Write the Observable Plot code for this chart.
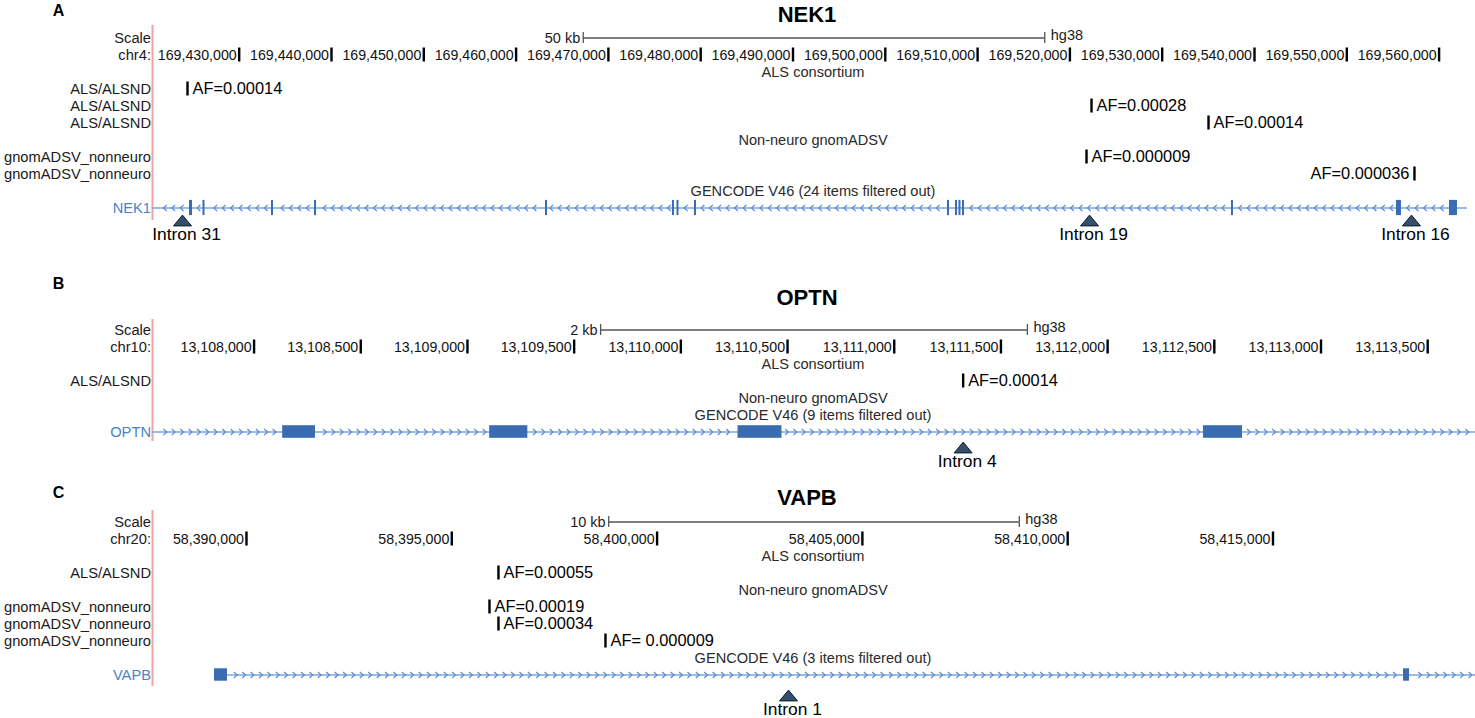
<!DOCTYPE html>
<html><head><meta charset="utf-8">
<script src="https://cdn.jsdelivr.net/npm/d3@7"></script>
<script src="https://cdn.jsdelivr.net/npm/@observablehq/plot@0.6"></script>
<style>
body{margin:0;background:#fff;}
#wrap{width:1475px;height:718px;overflow:hidden;background:#fff;}
#wrap svg{display:block;}
</style></head><body><div id="wrap"></div>
<script>
// ================= Panel A: NEK1 (chr4, minus strand) =================
const nekLetter = "A";
const nekTitle = "NEK1";
const nekView = [169420607, 169563944];
const nekTicks = [169430000,169440000,169450000,169460000,169470000,169480000,169490000,169500000,169510000,169520000,169530000,169540000,169550000,169560000];
const nekScaleKb = 50;
const nekRows = ["scale","chr","alsTitle","als1","als2","als3","gnTitle","gn1","gn2","gencode","gene"];
const nekRowLabels = ["Scale","chr4:","","ALS/ALSND","ALS/ALSND","ALS/ALSND","","gnomADSV_nonneuro","gnomADSV_nonneuro","","NEK1"];
const nekCenterLabels = [["alsTitle","ALS consortium"],["gnTitle","Non-neuro gnomADSV"],["gencode","GENCODE V46 (24 items filtered out)"]];
const nekStrand = "-";
const nekGeneSpan = [169420607, 169563074];
const nekExons = [[169424615,169424941],[169426078,169426295],[169433499,169433716],[169438158,169438375],[169463186,169463403],[169476943,169477160],[169477431,169477648],[169479326,169479543],[169506736,169506953],[169507603,169507820],[169507982,169508199],[169508362,169508579],[169537505,169537722],[169555380,169555921],[169561122,169561989]];
const nekVariants = [
  {track:"als1", pos:169424399, label:"AF=0.00014"},
  {track:"als2", pos:169522342, label:"AF=0.00028"},
  {track:"als3", pos:169535018, label:"AF=0.00014"},
  {track:"gn1",  pos:169521800, label:"AF=0.000009"},
  {track:"gn2",  pos:169557331, label:"AF=0.000036"}
];
const nekIntrons = [
  {pos:169423857, label:"Intron 31"},
  {pos:169522125, label:"Intron 19"},
  {pos:169557006, label:"Intron 16"}
];

// ================= Panel B: OPTN (chr10, plus strand) =================
const optnLetter = "B";
const optnTitle = "OPTN";
const optnView = [13107524, 13113724];
const optnTicks = [13108000,13108500,13109000,13109500,13110000,13110500,13111000,13111500,13112000,13112500,13113000,13113500];
const optnScaleKb = 2;
const optnRows = ["scale","chr","alsTitle","als1","gnTitle","gencode","gene"];
const optnRowLabels = ["Scale","chr10:","","ALS/ALSND","","","OPTN"];
const optnCenterLabels = [["alsTitle","ALS consortium"],["gnTitle","Non-neuro gnomADSV"],["gencode","GENCODE V46 (9 items filtered out)"]];
const optnStrand = "+";
const optnGeneSpan = [13107524, 13113724];
const optnExons = [[13108134,13108288],[13109104,13109283],[13110268,13110474],[13112449,13112632]];
const optnVariants = [
  {track:"als1", pos:13111323, label:"AF=0.00014"}
];
const optnIntrons = [
  {pos:13111323, label:"Intron 4"}
];

// ================= Panel C: VAPB (chr20, plus strand) =================
const vapbLetter = "C";
const vapbTitle = "VAPB";
const vapbView = [58387711, 58419932];
const vapbTicks = [58390000,58395000,58400000,58405000,58410000,58415000];
const vapbScaleKb = 10;
const vapbRows = ["scale","chr","alsTitle","als1","gnTitle","gn1","gn2","gn3","gencode","gene"];
const vapbRowLabels = ["Scale","chr20:","","ALS/ALSND","","gnomADSV_nonneuro","gnomADSV_nonneuro","gnomADSV_nonneuro","","VAPB"];
const vapbCenterLabels = [["alsTitle","ALS consortium"],["gnTitle","Non-neuro gnomADSV"],["gencode","GENCODE V46 (3 items filtered out)"]];
const vapbStrand = "+";
const vapbGeneSpan = [58389221, 58419932];
const vapbExons = [[58389221,58389537],[58418179,58418325]];
const vapbVariants = [
  {track:"als1", pos:58396137, label:"AF=0.00055"},
  {track:"gn1",  pos:58395918, label:"AF=0.00019"},
  {track:"gn2",  pos:58396137, label:"AF=0.00034"},
  {track:"gn3",  pos:58398743, label:"AF= 0.000009"}
];
const vapbIntrons = [
  {pos:58403200, label:"Intron 1"}
];

// ================= drawing =================
const W = 1475, ML = 152;
const BLUE_TXT = "#4b82c6", BLUE_LINE = "#79a6dc", BLUE_CHEV = "#5b8dcf", BLUE_EXON = "#3a6cb2";
const FONT = "'Liberation Sans', Arial, Helvetica, sans-serif";
const fmt = d3.format(",");

const chevLeft = {draw(ctx, size){ const r = Math.sqrt(size/Math.PI); ctx.moveTo(r*0.55,-r); ctx.lineTo(-r*0.55,0); ctx.lineTo(r*0.55,r); }};
const chevRight = {draw(ctx, size){ const r = Math.sqrt(size/Math.PI); ctx.moveTo(-r*0.55,-r); ctx.lineTo(r*0.55,0); ctx.lineTo(-r*0.55,r); }};
const flatTri = {draw(ctx, size){ const r = Math.sqrt(size/Math.PI); ctx.moveTo(0,-r*0.6); ctx.lineTo(r,r*0.6); ctx.lineTo(-r,r*0.6); ctx.closePath(); }};

function panel(c, L){
  const bpPerPx = (c.view[1]-c.view[0])/(W-ML);
  const step = 8.4*bpPerPx, pad = 3*bpPerPx;
  const chev = d3.range(c.span[0]+step/2, c.span[1]-pad, step)
    .filter(p => p > c.view[0] + 2*pad && !c.exons.some(([a,b]) => p > a-pad && p < b+pad));
  const mid = (c.view[0]+c.view[1])/2;
  const bar = {x1: mid - c.kb*500, x2: mid + c.kb*500};
  const rowData = c.rows.map((r,i) => ({row:r, label:c.rowLabels[i]})).filter(d => d.label);
  // a label goes to the right of its bar unless it would run past the right edge
  const fitsRight = v => (ML + (v.pos-c.view[0])/bpPerPx) + 115 < W;
  const varRight = c.variants.filter(fitsRight);
  const varLeft = c.variants.filter(v => !fitsRight(v));
  return Plot.plot({
    width: W, height: L.height,
    marginLeft: ML, marginRight: 0, marginTop: L.mt, marginBottom: L.mb,
    x: {domain: c.view, axis: null},
    y: {type: "band", domain: c.rows, padding: 0, axis: null},
    style: {fontFamily: FONT, fontSize: "14.5px", background: "#fff", overflow: "visible", color: "#111"},
    marks: [
      Plot.ruleX([c.view[0]], {stroke: "#f3a3a3", strokeWidth: 2}),
      // panel letter and title
      Plot.text([c.letter], {text: d => d, frameAnchor: "top-left", lineAnchor: "middle", textAnchor: "middle", dx: -94, dy: L.letterDy, fontWeight: "bold", fontSize: 16, fill: "#000"}),
      Plot.text([c.title], {text: d => d, frameAnchor: "top", lineAnchor: "middle", dx: -7, dy: L.titleDy, fontWeight: "bold", fontSize: 22, fill: "#000"}),
      // left track labels
      Plot.text(rowData, {y: "row", text: "label", frameAnchor: "left", textAnchor: "end", dx: -1.5, fontSize: 14.7, fill: d => d.row === "gene" ? BLUE_TXT : "#1a1a1a"}),
      // centre track titles
      Plot.text(c.center, {y: d => d[0], text: d => d[1], dx: -1, fontSize: 14.6, fill: "#2a2a2a"}),
      // scale bar
      Plot.ruleY([bar], {y: () => "scale", x1: "x1", x2: "x2", stroke: "#555", strokeWidth: 1.3}),
      Plot.tickX([bar.x1, bar.x2], {x: d => d, y: () => "scale", insetTop: 3, insetBottom: 3, stroke: "#555", strokeWidth: 1.3}),
      Plot.text([bar], {x: "x1", y: () => "scale", text: () => c.kb + " kb", textAnchor: "end", dx: -3, fontSize: 14.5, fill: "#1a1a1a"}),
      Plot.text([bar], {x: "x2", y: () => "scale", text: () => "hg38", textAnchor: "start", dx: 6, dy: -3, fontSize: 14.5, fill: "#1a1a1a"}),
      // chromosome coordinate ruler
      Plot.tickX(c.ticks, {x: d => d, y: () => "chr", stroke: "#000", strokeWidth: 2.4, insetTop: 1.5, insetBottom: 1.5}),
      Plot.text(c.ticks, {x: d => d, y: () => "chr", text: d => fmt(d), textAnchor: "end", dx: -2.5, fontSize: 14.2, fill: "#111"}),
      // gene model
      Plot.ruleY([c.span], {y: () => "gene", x1: d => d[0], x2: d => d[1], stroke: BLUE_LINE, strokeWidth: 1.6}),
      Plot.dot(chev, {x: d => d, y: () => "gene", r: 3, symbol: c.strand === "-" ? chevLeft : chevRight, fill: "none", stroke: BLUE_CHEV, strokeWidth: 1.2}),
      Plot.barX(c.exons, {x1: d => d[0], x2: d => d[1], y: () => "gene", insetTop: L.exonInset, insetBottom: L.exonInset, fill: BLUE_EXON}),
      // variants (SV breakpoints) with allele frequencies
      Plot.tickX(c.variants, {x: "pos", y: "track", stroke: "#000", strokeWidth: 2.4, insetTop: 1.5, insetBottom: 1.5}),
      Plot.text(varRight, {x: "pos", y: "track", text: "label", textAnchor: "start", dx: 5, fontSize: 16.4, fill: "#000"}),
      Plot.text(varLeft, {x: "pos", y: "track", text: "label", textAnchor: "end", dx: -5, fontSize: 16.4, fill: "#000"}),
      // intron markers
      Plot.dot(c.introns, {x: "pos", y: () => "gene", dy: L.triDy, r: 9, symbol: flatTri, fill: "#34506c", stroke: "#0e1b28", strokeWidth: 1}),
      Plot.text(c.introns, {x: "pos", y: () => "gene", dy: L.triDy + 13.5, dx: 4, text: "label", fontSize: 17.4, fill: "#000"})
    ]
  });
}

const panels = [
  [{letter: nekLetter, title: nekTitle, view: nekView, ticks: nekTicks, kb: nekScaleKb, rows: nekRows, rowLabels: nekRowLabels, center: nekCenterLabels, strand: nekStrand, span: nekGeneSpan, exons: nekExons, variants: nekVariants, introns: nekIntrons},
   {height: 250, mt: 25, mb: 30, letterDy: -15, titleDy: -11, exonInset: 0.9, triDy: 12.5}],
  [{letter: optnLetter, title: optnTitle, view: optnView, ticks: optnTicks, kb: optnScaleKb, rows: optnRows, rowLabels: optnRowLabels, center: optnCenterLabels, strand: optnStrand, span: optnGeneSpan, exons: optnExons, variants: optnVariants, introns: optnIntrons},
   {height: 220, mt: 69, mb: 29, letterDy: -36, titleDy: -22, exonInset: 2.2, triDy: 15.5}],
  [{letter: vapbLetter, title: vapbTitle, view: vapbView, ticks: vapbTicks, kb: vapbScaleKb, rows: vapbRows, rowLabels: vapbRowLabels, center: vapbCenterLabels, strand: vapbStrand, span: vapbGeneSpan, exons: vapbExons, variants: vapbVariants, introns: vapbIntrons},
   {height: 248, mt: 40, mb: 32, letterDy: -18, titleDy: -13, exonInset: 2.3, triDy: 20.5}]
];

const wrap = document.getElementById("wrap");
for (const [c, L] of panels) wrap.appendChild(panel(c, L));
</script></body></html>
